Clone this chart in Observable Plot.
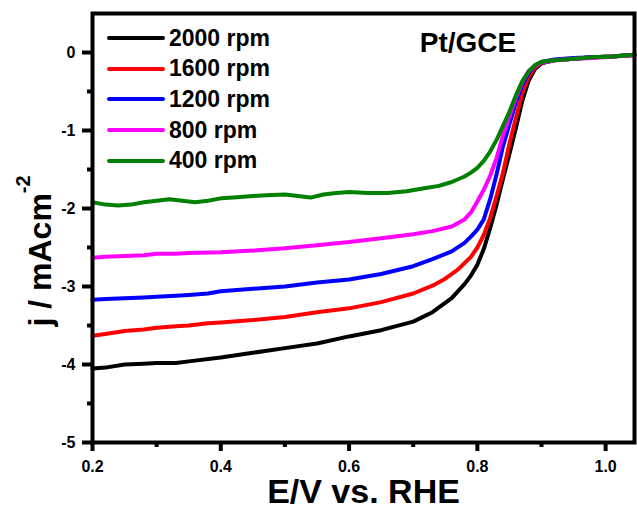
<!DOCTYPE html>
<html><head><meta charset="utf-8">
<script src="https://cdn.jsdelivr.net/npm/d3@7"></script>
<script src="https://cdn.jsdelivr.net/npm/@observablehq/plot@0.6"></script>
<style>
body{margin:0;background:#fff;}
#wrap{position:relative;width:637px;height:510px;font-family:"Liberation Sans",Arial,sans-serif;}
#legend{position:absolute;left:107px;top:23px;}
.row{display:flex;align-items:center;height:30.6px;}
.sw{width:58px;height:4px;border-radius:2px;margin-right:4px;}
.lab{font-weight:bold;font-size:23px;line-height:1;color:#000;}
</style></head><body><div id="wrap"><div id="legend"></div></div>
<script>
const seriesNames = ["2000 rpm", "1600 rpm", "1200 rpm", "800 rpm", "400 rpm"];
const seriesColors = ["#000000", "#ff0000", "#0000ff", "#ff00ff", "#008000"];

const E2000 = [0.20,0.22,0.25,0.28,0.30,0.33,0.35,0.40,0.45,0.50,0.55,0.60,0.65,0.70,0.73,0.76,0.78,0.79,0.80,0.81,0.82,0.83,0.84,0.85,0.86,0.87,0.88,0.89,0.90,0.92,0.95,0.98,1.01,1.045];
const j2000 = [-4.05,-4.04,-4.00,-3.99,-3.98,-3.98,-3.96,-3.91,-3.85,-3.79,-3.73,-3.64,-3.56,-3.45,-3.33,-3.15,-2.97,-2.86,-2.72,-2.52,-2.25,-1.95,-1.62,-1.30,-0.97,-0.62,-0.36,-0.21,-0.14,-0.10,-0.08,-0.06,-0.05,-0.03];

const E1600 = [0.20,0.22,0.25,0.28,0.30,0.33,0.35,0.38,0.40,0.45,0.50,0.55,0.60,0.65,0.70,0.73,0.75,0.77,0.79,0.80,0.81,0.82,0.83,0.84,0.85,0.86,0.87,0.88,0.89,0.90,0.92,0.95,0.98,1.01,1.045];
const j1600 = [-3.63,-3.61,-3.57,-3.55,-3.53,-3.51,-3.50,-3.47,-3.46,-3.43,-3.39,-3.33,-3.28,-3.20,-3.09,-2.99,-2.90,-2.78,-2.62,-2.50,-2.34,-2.12,-1.84,-1.54,-1.17,-0.84,-0.52,-0.31,-0.19,-0.13,-0.10,-0.08,-0.06,-0.05,-0.03];

const E1200 = [0.20,0.22,0.25,0.28,0.30,0.33,0.35,0.38,0.40,0.45,0.50,0.55,0.60,0.65,0.70,0.73,0.76,0.78,0.79,0.80,0.81,0.82,0.83,0.84,0.85,0.86,0.87,0.88,0.89,0.90,0.92,0.95,0.98,1.01,1.045];
const j1200 = [-3.17,-3.16,-3.15,-3.14,-3.13,-3.12,-3.11,-3.09,-3.06,-3.03,-3.00,-2.95,-2.91,-2.84,-2.74,-2.65,-2.55,-2.44,-2.36,-2.27,-2.14,-1.88,-1.56,-1.20,-0.92,-0.64,-0.42,-0.26,-0.17,-0.12,-0.09,-0.07,-0.06,-0.05,-0.03];

const E800 = [0.20,0.22,0.25,0.28,0.30,0.33,0.35,0.40,0.45,0.50,0.55,0.60,0.65,0.70,0.73,0.76,0.78,0.79,0.80,0.81,0.82,0.83,0.84,0.85,0.86,0.87,0.88,0.89,0.90,0.92,0.95,0.98,1.01,1.045];
const j800 = [-2.63,-2.62,-2.61,-2.60,-2.58,-2.58,-2.57,-2.56,-2.54,-2.51,-2.47,-2.43,-2.38,-2.33,-2.29,-2.23,-2.14,-2.05,-1.91,-1.76,-1.58,-1.35,-1.06,-0.82,-0.58,-0.38,-0.24,-0.17,-0.13,-0.10,-0.08,-0.07,-0.05,-0.04,-0.03];

const E400 = [0.20,0.22,0.24,0.26,0.28,0.30,0.32,0.34,0.36,0.38,0.40,0.42,0.45,0.47,0.50,0.52,0.54,0.56,0.58,0.60,0.63,0.66,0.69,0.71,0.74,0.76,0.78,0.79,0.80,0.81,0.82,0.83,0.84,0.85,0.86,0.87,0.88,0.89,0.90,0.92,0.95,0.98,1.01,1.045];
const j400 = [-1.92,-1.95,-1.96,-1.95,-1.92,-1.90,-1.88,-1.90,-1.92,-1.90,-1.87,-1.86,-1.84,-1.83,-1.82,-1.84,-1.86,-1.82,-1.80,-1.79,-1.80,-1.80,-1.78,-1.75,-1.71,-1.66,-1.59,-1.54,-1.48,-1.39,-1.27,-1.12,-0.94,-0.76,-0.55,-0.37,-0.24,-0.16,-0.12,-0.10,-0.08,-0.06,-0.05,-0.03];

const xMajorTicks = [0.2, 0.4, 0.6, 0.8, 1.0];
const xMinorTicks = [0.3, 0.5, 0.7, 0.9];
const yMajorTicks = [-5, -4, -3, -2, -1, 0];
const yMinorTicks = [-4.5, -3.5, -2.5, -1.5, -0.5];
const xLabel = "E/V vs. RHE";
const yLabel = "j / mAcm";
const yLabelSup = "-2";
const panelTitle = "Pt/GCE";

const seriesE = [E2000, E1600, E1200, E800, E400];
const seriesJ = [j2000, j1600, j1200, j800, j400];
const rows = [];
seriesNames.forEach((name, k) => {
  seriesE[k].forEach((e, i) => rows.push({series: name, E: e, j: seriesJ[k][i]}));
});

const font = "Liberation Sans, Arial, sans-serif";
const plot = Plot.plot({
  width: 637,
  height: 510,
  marginLeft: 92,
  marginRight: 3,
  marginTop: 13,
  marginBottom: 68,
  style: {fontFamily: font, fontWeight: "bold", fontSize: "16px", background: "#fff", color: "#000"},
  x: {domain: [0.2, 1.045]},
  y: {domain: [-5, 0.5]},
  color: {domain: seriesNames, range: seriesColors},
  marks: [
    Plot.line(rows, {x: "E", y: "j", z: "series", stroke: "series", strokeWidth: 4, strokeLinejoin: "round", strokeLinecap: "round"}),
    Plot.axisX({ticks: xMajorTicks, tickSize: 9, tickPadding: 9, strokeWidth: 4, tickFormat: d3.format(".1f"), label: null, fontSize: 16, fontWeight: "bold"}),
    Plot.axisX({ticks: xMinorTicks, tickSize: 5, strokeWidth: 4, tickFormat: () => "", label: null}),
    Plot.axisY({ticks: yMajorTicks, tickSize: 10, tickPadding: 7, strokeWidth: 4, tickFormat: d => String(d), label: null, fontSize: 16, fontWeight: "bold"}),
    Plot.axisY({ticks: yMinorTicks, tickSize: 5, strokeWidth: 4, tickFormat: () => "", label: null}),
    Plot.frame({strokeWidth: 4}),
    Plot.text([xLabel], {text: d => d, frameAnchor: "bottom", lineAnchor: "middle", dy: 50, fontSize: 34, fontWeight: "bold"}),
    Plot.text([yLabel], {text: d => d, frameAnchor: "left", lineAnchor: "middle", rotate: -90, textAnchor: "start", dx: -52, dy: 98.5, fontSize: 32, fontWeight: "bold"}),
    Plot.text([panelTitle], {text: d => d, frameAnchor: "top", lineAnchor: "middle", dx: 104.5, dy: 30, fontSize: 28, fontWeight: "bold"})
  ]
});

d3.select(plot).selectAll("text")
  .filter(function() { return this.textContent === yLabel; })
  .append("tspan").attr("dy", -21).attr("font-size", 20).text(yLabelSup);

const wrap = document.getElementById("wrap");
wrap.insertBefore(plot, wrap.firstChild);
plot.style.position = "absolute";
plot.style.left = "0";
plot.style.top = "0";

const legend = d3.select("#legend");
seriesNames.forEach((name, k) => {
  const row = legend.append("div").attr("class", "row");
  row.append("div").attr("class", "sw").style("background", seriesColors[k]);
  row.append("div").attr("class", "lab").text(name);
});
</script></body></html>
